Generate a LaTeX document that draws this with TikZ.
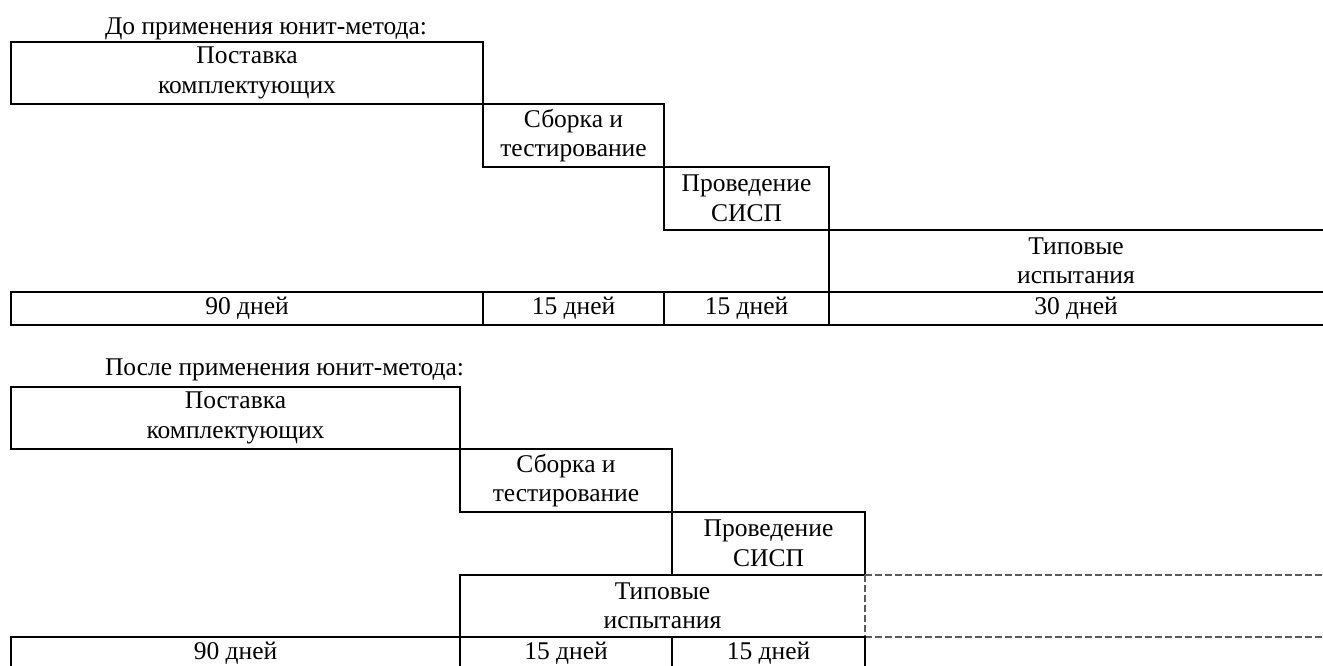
\documentclass[tikz,border=0pt]{standalone}
\usepackage{fontspec}
\setmainfont{Liberation Serif}
\begin{document}
\begin{tikzpicture}[x=1pt,y=-1pt,
  cell/.style={draw, line width=2.4pt, rectangle, inner sep=0pt, outer sep=0pt, align=center,
    font=\fontsize{25.5}{29.5}\selectfont},
  txt/.style={inner sep=0pt, outer sep=0pt, align=center, font=\fontsize{25.5}{29.5}\selectfont},
  solidline/.style={line width=2.4pt},
  dashline/.style={line width=1.2pt, draw=black!65, dash pattern=on 7pt off 3pt}]
\useasboundingbox (0,0) rectangle (1323,666);
% ---------- top section ----------
\node[txt, anchor=base west] (t1) at (105,35) {До применения юнит-метода:};
\node[cell, minimum width=472pt, minimum height=62pt] (a1) at (247,73) {Поставка\\комплектующих};
\node[cell, minimum width=181pt, minimum height=63pt] (a2) at (573.5,135.5) {Сборка и\\тестирование};
\node[cell, minimum width=165pt, minimum height=63pt] (a3) at (746.5,198.5) {Проведение\\СИСП};
\node[cell, minimum width=520pt, minimum height=62pt] (a4) at (1089,261) {};
\node[txt] (a4t) at (1076,261) {Типовые\\испытания};
\node[cell, minimum width=472pt, minimum height=33pt] (ad1) at (247,308.5) {90 дней};
\node[cell, minimum width=181pt, minimum height=33pt] (ad2) at (573.5,308.5) {15 дней};
\node[cell, minimum width=165pt, minimum height=33pt] (ad3) at (746.5,308.5) {15 дней};
\node[cell, minimum width=520pt, minimum height=33pt] (ad4) at (1089,308.5) {};
\node[txt] (ad4t) at (1076,308.5) {30 дней};
% ---------- bottom section ----------
\node[txt, anchor=base west] (t2) at (105,375) {После применения юнит-метода:};
\node[cell, minimum width=449pt, minimum height=62pt] (b1) at (235.5,418) {Поставка\\комплектующих};
\node[cell, minimum width=212pt, minimum height=63pt] (b2) at (566,480.5) {Сборка и\\тестирование};
\node[cell, minimum width=193pt, minimum height=63pt] (b3) at (768.5,543.5) {Проведение\\СИСП};
\node[txt, minimum width=405pt, minimum height=62pt] (b4) at (662.5,606) {Типовые\\испытания};
\draw[solidline] (b4.north east) -- (b4.north west) -- (b4.south west) -- (b4.south east);
\draw[dashline] (b4.north east) -- (b4.south east);
\coordinate (e1) at (1323,575);
\coordinate (e2) at (1323,637);
\draw[dashline] (b4.north east) -- (e1);
\draw[dashline] (b4.south east) -- (e2);
\node[cell, minimum width=449pt, minimum height=33pt] (bd1) at (235.5,653.5) {};
\node[cell, minimum width=212pt, minimum height=33pt] (bd2) at (566,653.5) {};
\node[cell, minimum width=193pt, minimum height=33pt] (bd3) at (768.5,653.5) {};
\node[txt] (bd1t) at (235.5,653.5) {90 дней};
\node[txt] (bd2t) at (566,653.5) {15 дней};
\node[txt] (bd3t) at (768.5,653.5) {15 дней};
\end{tikzpicture}
\end{document}
